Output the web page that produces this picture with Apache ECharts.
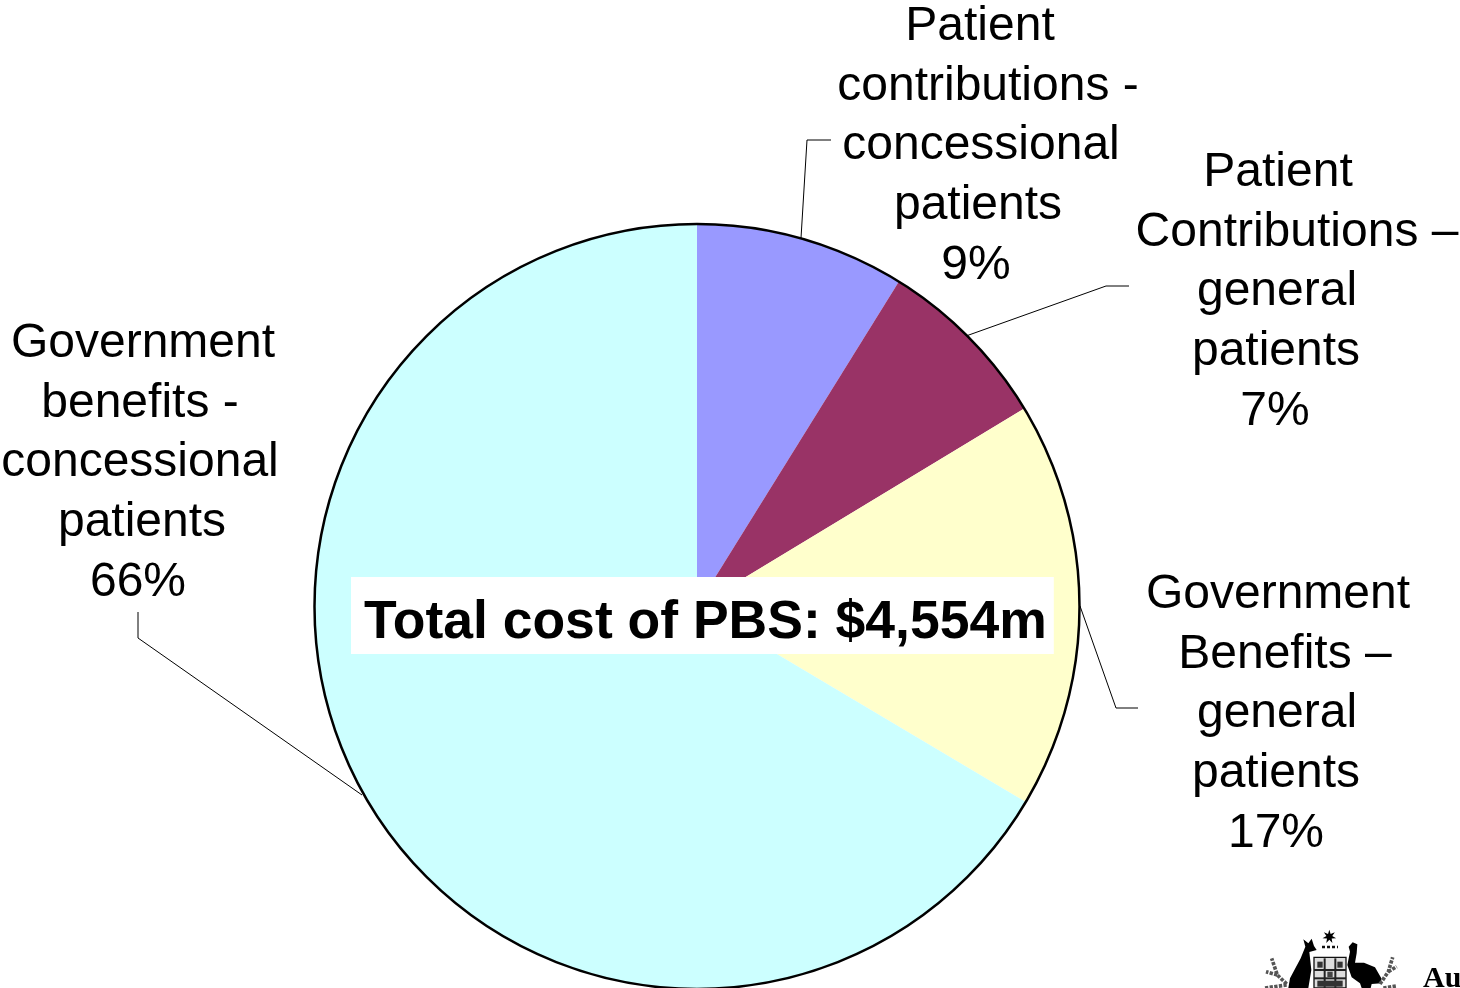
<!DOCTYPE html>
<html><head><meta charset="utf-8">
<style>html,body{margin:0;padding:0;background:#fff;overflow:hidden}#c{width:1460px;height:988px}</style>
<script src="https://cdn.jsdelivr.net/npm/echarts@6/dist/echarts.min.js"></script>
</head><body><div id="c"></div>
<script>
const categories = [
  'Patient\ncontributions -\nconcessional\npatients',
  'Patient\nContributions –\ngeneral\npatients',
  'Government\nBenefits –\ngeneral\npatients',
  'Government\nbenefits -\nconcessional\npatients'
];
// Slice shares (labels round them)
const shares = [8.85, 7.49, 17.2, 66.46];
const colors = ['#9999FF', '#993366', '#FFFFCC', '#CCFFFF'];
const chartTitle = 'Total cost of PBS: $4,554m';
const labelCentres = [[980, 146], [1278, 292], [1277, 714], [140, 463]];
// per-line horizontal nudges of the centred label text
const lineNudges = [
  [0, 8, 1, -2, -4],
  [0, 19, -1, -2, -3],
  [1, 8, 0, -1, -1],
  [3, 0, 0, 2, -2]
];
const leaders = [
  [[801, 238], [807, 140], [831, 140]],
  [[966, 336], [1106, 286], [1129, 286]],
  [[1080, 606], [1116, 708], [1138, 708]],
  [[362, 795], [138, 638], [138, 612]]
];
const FONT = '"Liberation Sans", Arial, sans-serif';

const rich = {};
lineNudges.flat().forEach(n => {
  rich['n' + (n < 0 ? 'm' + (-n) : n)] = {
    fontFamily: FONT, fontSize: 48, lineHeight: 59.7, color: '#000',
    padding: n >= 0 ? [0, 0, 0, 2 * n] : [0, -2 * n, 0, 0]
  };
});
const richLine = (text, n) => '{n' + (n < 0 ? 'm' + (-n) : n) + '|' + text + '}';

const P = (pts) => pts.map(p => [p[0], p[1]]);
const black = { fill: '#000' };
const star = [];
for (let i = 0; i < 14; i++) {
  const r = i % 2 ? 9 : 21, a = i * Math.PI / 7 - Math.PI / 2;
  star.push([268 + r * Math.cos(a), 80 + r * Math.sin(a)]);
}
const shieldLines = [];
[[222,180,318,180],[222,205,318,205],[254,145,254,234],[286,145,286,234]].forEach(l => {
  shieldLines.push({ type: 'line', shape: { x1: l[0], y1: l[1], x2: l[2], y2: l[3] }, style: { stroke: '#222', lineWidth: 6 } });
});
const sprig = (pts) => ({ type: 'polyline', shape: { points: pts }, style: { stroke: '#555', lineWidth: 11, fill: null, lineDash: [10, 4] } });
const emblem = {
  type: 'group', x: 1240, y: 910, scaleX: 1 / 3, scaleY: 1 / 3,
  children: [
    { type: 'polygon', shape: { points: star }, style: black },
    { type: 'line', shape: { x1: 246, y1: 111, x2: 294, y2: 111 }, style: { stroke: '#111', lineWidth: 7, lineDash: [9, 6] } },
    { type: 'polygon', shape: { points: P([[190,88],[205,100],[215,86],[222,108],[230,120],[208,126],[214,180],[205,234],[145,234],[150,205],[182,145],[196,110]]) }, style: black },
    { type: 'rect', shape: { x: 222, y: 142, width: 96, height: 92 }, style: { fill: '#ddd', stroke: '#111', lineWidth: 4 } },
    ...shieldLines,
    { type: 'rect', shape: { x: 232, y: 155, width: 16, height: 18 }, style: { fill: '#333' } },
    { type: 'rect', shape: { x: 292, y: 155, width: 16, height: 18 }, style: { fill: '#333' } },
    { type: 'rect', shape: { x: 262, y: 185, width: 16, height: 16 }, style: { fill: '#444' } },
    { type: 'rect', shape: { x: 232, y: 212, width: 76, height: 18 }, style: { fill: '#333' } },
    { type: 'polygon', shape: { points: P([[326,110],[338,97],[352,103],[350,130],[345,158],[372,158],[405,172],[424,205],[424,220],[395,222],[392,234],[365,234],[360,220],[335,202],[322,165],[330,125]]) }, style: black },
    sprig([[140,222],[112,195],[95,145]]),
    sprig([[112,195],[78,185]]),
    sprig([[75,234],[140,225]]),
    sprig([[420,222],[445,185],[458,142]]),
    sprig([[445,185],[470,170]]),
    sprig([[430,234],[468,228]])
  ]
};

const chart = echarts.init(document.getElementById('c'), null, { renderer: 'canvas' });
chart.setOption({
  animation: false,
  backgroundColor: '#fff',
  color: colors,
  title: {
    text: chartTitle, left: 351, top: 577,
    padding: [19, 7, 4, 13], backgroundColor: '#fff',
    textStyle: { fontFamily: FONT, fontSize: 53.5, fontWeight: 'bold', color: '#000', lineHeight: 54 }
  },
  graphic: [
    emblem,
    { type: 'text', x: 1423, y: 964, style: { text: 'Au', font: 'bold 30px "Liberation Serif", "Times New Roman", serif', fill: '#000' } }
  ],
  series: [
    {
      type: 'pie', center: [697, 606.5], radius: [0, 382], startAngle: 90, clockwise: true,
      silent: true,
      data: shares.map((v, i) => ({ name: categories[i], value: v, itemStyle: { color: colors[i] } })),
      itemStyle: { borderWidth: 0 },
      label: {
        show: true, position: 'outside',
        fontFamily: FONT, fontSize: 48, lineHeight: 59.7, color: '#000', align: 'center',
        rich: rich,
        formatter: (p) => (p.name + '\n' + Math.round(p.value) + '%').split('\n')
          .map((t, i) => richLine(t, lineNudges[p.dataIndex][i])).join('\n')
      },
      labelLine: { show: true, length: 20, length2: 20, lineStyle: { color: '#000', width: 1 } },
      labelLayout: (p) => ({
        x: labelCentres[p.dataIndex][0], y: labelCentres[p.dataIndex][1],
        align: 'center', verticalAlign: 'middle',
        labelLinePoints: leaders[p.dataIndex]
      })
    },
    {
      type: 'pie', center: [697, 606.5], radius: [0, 382.5], silent: true, z: 3,
      data: [{ value: 1, name: 'outline' }],
      label: { show: false }, labelLine: { show: false },
      itemStyle: { color: 'rgba(0,0,0,0)', borderColor: '#000', borderWidth: 2.5 },
      tooltip: { show: false }
    }
  ]
});
</script></body></html>
